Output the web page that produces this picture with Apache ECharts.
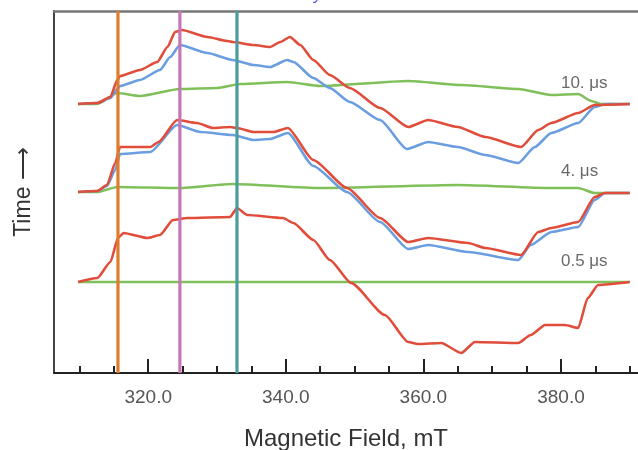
<!DOCTYPE html>
<html>
<head>
<meta charset="utf-8">
<script src="https://cdn.jsdelivr.net/npm/echarts@6/dist/echarts.min.js"></script>
<style>
  html, body { margin: 0; padding: 0; background: #fff; }
  #chart { width: 638px; height: 450px; }
</style>
</head>
<body>
<div id="chart"></div>
<script>
// magnetic field (mT) / signal pairs, signal relative to each trace's baseline
var red10 = [[309.8,0],[312.6,1],[314.5,7],[315.5,24],[315.9,28],[318.8,34],[321.3,42],[322.8,57],[323.9,72],[324.9,74],
  [328.6,67],[331.5,63],[332.3,62],[335.3,59],[337.7,57],[339.2,62],[340.6,67],[342.1,59],[344.0,44],[346.4,29],
  [349.3,16],[353.7,-4],[357.8,-23],[360.7,-16],[365.0,-23],[369.0,-33],[374.2,-43],[376.7,-26],[378.6,-19],
  [382.5,-9],[384.9,-1],[390.0,0]];
var blue10 = [[309.8,0],[312.6,1],[314.5,6],[315.5,15],[315.9,18],[318.8,24],[321.7,34],[323.2,47],[324.6,59],[328.6,51],
  [332.3,44],[335.3,39],[337.7,37],[340.2,44],[341.1,42],[344.0,26],[346.4,16],[349.3,2],[353.7,-16],[357.6,-45],
  [360.7,-38],[365.0,-43],[369.0,-51],[373.8,-59],[376.2,-43],[378.6,-29],[382.5,-19],[384.9,-3],[386.4,0],[390.0,0]];
var green10 = [[309.8,0],[312.6,0],[315.5,11],[318.8,8],[324.6,15],[330.0,16],[333.4,20],[340.2,22],[345.0,18],[357.8,23],
  [365.5,19],[373.8,15],[378.6,9],[382.5,10],[384.4,3],[385.8,0],[390.0,0]];

var red4 = [[309.8,0],[312.6,1],[314.0,7],[315.2,29],[315.9,45],[320.3,45],[321.5,50],[324.2,72],[327.1,69],[329.4,64],
  [331.9,65],[332.9,64],[335.3,60],[338.2,60],[340.3,64],[344.0,32],[348.9,4],[353.7,-26],[357.8,-50],
  [360.7,-46],[366.5,-51],[369.0,-56],[374.2,-63],[376.7,-40],[378.6,-36],[382.5,-30],[384.9,-5],[386.4,-1],[390.0,-1]];
var blue4 = [[309.8,0],[312.6,1],[314.0,6],[315.2,22],[315.9,38],[320.3,40],[324.2,67],[327.6,60],[332.3,57],[335.3,52],
  [337.7,53],[340.3,59],[344.0,26],[348.9,0],[353.7,-30],[357.8,-57],[360.7,-53],[366.5,-60],[373.8,-68],
  [375.6,-53],[378.6,-40],[382.5,-35],[384.9,-8],[386.4,-1],[390.0,-1]];
var green4 = [[309.8,0],[312.6,0],[315.5,5],[324.6,4],[332.3,8],[345.0,4],[365.0,7],[378.6,4],[382.5,4],[384.9,-1],[390.0,-1]];

var red05 = [[309.8,0],[312.6,4],[314.5,20],[315.6,44],[316.4,49],[319.9,44],[321.7,47],[323.6,62],[325.7,64],[331.9,65],
  [332.9,74],[334.4,67],[339.6,64],[341.1,59],[344.0,42],[346.4,22],[349.5,-1],[354.4,-33],[357.8,-60],[359.2,-62],
  [362.6,-61],[365.5,-71],[367.5,-60],[373.8,-61],[375.6,-53],[377.7,-43],[380.6,-43],[382.5,-46],[383.9,-16],
  [385.4,-3],[390.0,0]];
var green05 = [[309.8,0],[312.6,0],[350.0,0],[390.0,0]];

var delayLabels = ['10. μs', '4. μs', '0.5 μs'];
var baseOffsets = [269, 181, 91];   // vertical offset of each delay
var markerFields = [315.6, 324.6, 332.9];
var majorTicks = [320, 340, 360, 380];
var minorTicks = [310, 315, 325, 330, 335, 345, 350, 355, 365, 370, 375, 385, 390];

var cRed = '#e14d3b', cBlue = '#6b9ee0', cGreen = '#80c05a';
var markerColors = ['#df7b2c', '#c576b3', '#4a9c9e'];
var font = 'Liberation Sans';

function shift(arr, off) {
  return arr.map(function (p) { return [p[0], p[1] + off]; });
}
function trace(arr, off, color) {
  return {
    type: 'line', data: shift(arr, off), showSymbol: false, smooth: 0.2, smoothMonotone: 'x',
    lineStyle: { color: color, width: 2.6 }, silent: true, z: 3
  };
}

var series = [];
var groups = [[red10, blue10, green10], [red4, blue4, green4], [red05, null, green05]];
groups.forEach(function (g, i) {
  series.push(trace(g[2], baseOffsets[i], cGreen));
  if (g[1]) series.push(trace(g[1], baseOffsets[i], cBlue));
  series.push(trace(g[0], baseOffsets[i], cRed));
});

markerFields.forEach(function (f, i) {
  series.push({
    type: 'line', data: [[f, 0], [f, 362]], showSymbol: false, silent: true, z: 5,
    lineStyle: { color: markerColors[i], width: 3.2 }
  });
});

series.push({
  type: 'scatter', symbolSize: 0, silent: true, z: 6,
  data: delayLabels.map(function (t, i) { return { value: [380.0, baseOffsets[i] + 21], name: t }; }),
  label: {
    show: true, position: 'right', distance: 0, formatter: '{b}',
    fontFamily: font, fontSize: 17, color: '#444'
  }
});

var myChart = echarts.init(document.getElementById('chart'));
var option = {
  animation: false,
  grid: { left: 54, right: 0, top: 11, bottom: 77, outerBoundsMode: 'none', containLabel: false },
  graphic: [{
    type: 'text', left: 314, top: -15,
    style: { text: 'y', fill: '#5a5af0', font: 'italic 18px Liberation Sans' }
  }],
  xAxis: [
    {
      type: 'value', position: 'bottom', min: 306.3, max: 391.2,
      name: 'Magnetic Field, mT', nameLocation: 'middle', nameGap: 54,
      nameTextStyle: { fontFamily: font, fontSize: 24, color: '#333' },
      axisLine: { show: true, lineStyle: { color: '#222', width: 2 } },
      axisTick: { show: true, inside: true, length: 14, customValues: majorTicks, lineStyle: { color: '#222', width: 2 } },
      axisLabel: {
        customValues: majorTicks, margin: 15, fontFamily: font, fontSize: 19, color: '#555',
        formatter: function (v) { return v.toFixed(1); }
      },
      splitLine: { show: false }
    },
    {
      type: 'value', position: 'bottom', min: 306.3, max: 391.2,
      axisLine: { show: false },
      axisTick: { show: true, inside: true, length: 7, customValues: minorTicks, lineStyle: { color: '#222', width: 2 } },
      axisLabel: { show: false },
      splitLine: { show: false }
    },
    {
      type: 'value', position: 'top', min: 306.3, max: 391.2,
      axisLine: { show: true, lineStyle: { color: '#777', width: 2.5 } },
      axisTick: { show: false }, axisLabel: { show: false }, splitLine: { show: false }
    }
  ],
  yAxis: {
    type: 'value', min: 0, max: 362,
    name: 'Time ⟶', nameLocation: 'middle', nameGap: 19, nameRotate: 90,
    nameTextStyle: { fontFamily: font, fontSize: 23, color: '#333' },
    axisLine: { show: true, lineStyle: { color: '#444', width: 2 } },
    axisTick: { show: false }, axisLabel: { show: false }, splitLine: { show: false }
  },
  series: series
};
myChart.setOption(option);
</script>
</body>
</html>
